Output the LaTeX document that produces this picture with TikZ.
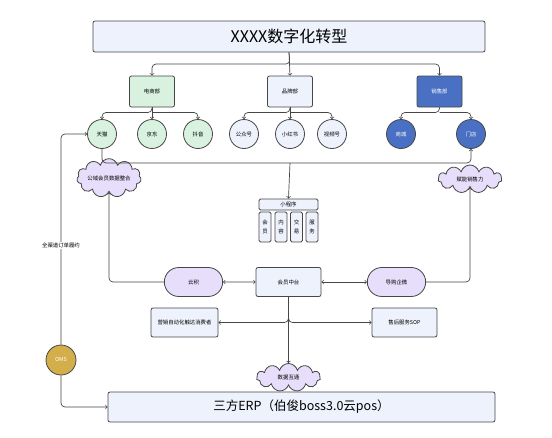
\documentclass[tikz,border=0pt]{standalone}
\usepackage{fontspec}
\newfontfamily\cjk{Noto Sans CJK SC}
\usepackage{tikz}
\usetikzlibrary{positioning,shapes,shapes.symbols,shapes.misc,arrows}
\definecolor{linecolor}{RGB}{70,70,70}
\definecolor{greenfill}{RGB}{216,242,223}
\definecolor{bluefill}{RGB}{238,242,252}
\definecolor{salesblue}{RGB}{74,112,196}
\definecolor{purplefill}{RGB}{230,222,250}
\definecolor{goldfill}{RGB}{213,174,76}

\tikzset{
  small/.style={font=\cjk\fontsize{5.4}{9}\selectfont},
  deptbox/.style={small, draw=linecolor, line width=0.8pt, rounded corners=2pt, minimum width=45pt, minimum height=31pt},
  channel/.style={small, circle, draw=linecolor, line width=0.8pt, minimum size=29pt, inner sep=0pt},
  infobox/.style={small, draw=linecolor, line width=0.8pt, rounded corners=2pt, fill=bluefill, minimum width=65pt, minimum height=29pt},
  pill/.style={small, rounded rectangle, draw=linecolor, line width=0.8pt, fill=purplefill, minimum width=65pt, minimum height=29pt},
  puff/.style={small, cloud, cloud puffs=11, aspect=2.3, draw=linecolor, line width=0.8pt, fill=purplefill, inner sep=0pt, minimum width=64pt, minimum height=28pt},
  conn/.style={->, >=to, draw=linecolor, line width=0.7pt, rounded corners=4pt}
}

\begin{document}
\begin{tikzpicture}[x=1pt, y=-1pt]
  \fill[white] (0,0) rectangle (552,437);
  \useasboundingbox (0,0) rectangle (552,437);

  % title
  \node[draw=linecolor, line width=0.8pt, rounded corners=2pt, fill=bluefill, minimum width=392pt, minimum height=31pt, font=\cjk\fontsize{16}{18}\selectfont] (title) at (289,36.5) {XXXX数字化转型};

  % departments
  \node[deptbox, fill=greenfill] (dianshang) at (152,91.5) {电商部};
  \node[deptbox, fill=bluefill] (pinpai) at (290,91.5) {品牌部};
  \node[deptbox, fill=salesblue, text=white] (xiaoshou) at (439.5,91.5) {销售部};

  % channels
  \node[channel, fill=greenfill] (tianmao) at (102,134) {天猫};
  \node[channel, fill=greenfill] (jingdong) at (152,134) {京东};
  \node[channel, fill=greenfill] (douyin) at (198,134) {抖音};
  \node[channel, fill=bluefill] (gongzhong) at (244,134) {公众号};
  \node[channel, fill=bluefill] (xiaohong) at (290,134) {小红书};
  \node[channel, fill=bluefill] (shipin) at (332,134) {视频号};
  \node[channel, fill=salesblue, text=white] (shangcheng) at (401,134) {商城};
  \node[channel, fill=salesblue, text=white] (mendian) at (471,134) {门店};

  \coordinate (top) at (290,64);
  \draw[conn] (title.south) -- (top) -| (dianshang.north);
  \draw[conn] (title.south) -- (pinpai.north);
  \draw[conn] (top) -| (xiaoshou.north);

  \coordinate (dsfork) at (152,112.5);
  \draw[conn] (dianshang.south) -- (dsfork) -| (tianmao.north);
  \draw[conn] (dianshang.south) -- (jingdong.north);
  \draw[conn] (dsfork) -| (douyin.north);

  \coordinate (ppfork) at (290,112.5);
  \draw[conn] (pinpai.south) -- (ppfork) -| (gongzhong.north);
  \draw[conn] (pinpai.south) -- (xiaohong.north);
  \draw[conn] (ppfork) -| (shipin.north);

  \coordinate (xsfork) at (439.5,112.5);
  \draw[conn] (xiaoshou.south) -- (xsfork) -| (shangcheng.north);
  \draw[conn] (xsfork) -| (mendian.north);

  % clouds
  \node[puff] (gongyu) at (109,178) {公域会员数据整合};
  \node[puff] (funeng) at (470,179) {赋能销售力};

  % mini program
  \node[small, draw=linecolor, line width=0.8pt, rounded corners=1.5pt, fill=bluefill, minimum width=59pt, minimum height=11pt, inner sep=0pt] (xcx) at (288.5,204.5) {小程序};
  \foreach \name/\cx/\txt in {hy/265/会\\员, nr/281/内\\容, jy/296.5/交\\易, fw/312/服\\务}
    \node[small, draw=linecolor, line width=0.8pt, rounded corners=1.5pt, fill=bluefill, minimum width=12pt, minimum height=30pt, inner sep=0pt, align=center] (\name) at (\cx,227) {\txt};

  \coordinate (bus) at (290,163);
  \draw[conn] (tianmao.south) |- (bus) -| (mendian.south);
  \draw[conn] (bus) -- (xcx.north);

  % middle row
  \node[pill] (yunji) at (193.5,282) {云积};
  \node[infobox] (huiyuan) at (288.5,282) {会员中台};
  \node[pill] (daogou) at (396.5,282) {导购企微};

  \draw[conn, <->] (yunji) -- (huiyuan);
  \draw[conn, <->] (huiyuan) -- (daogou);
  \draw[conn] (yunji.west) -| (gongyu.south);
  \draw[conn] (daogou.east) -| (funeng.south);

  \node[infobox, minimum width=67pt] (yingxiao) at (184.5,322.5) {营销自动化触达消费者};
  \node[infobox] (shouhou) at (404.5,322.5) {售后服务SOP};
  \node[puff] (shuju) at (288.5,377.5) {数据互通};

  \draw[conn] (huiyuan.south) |- (yingxiao.east);
  \draw[conn] (huiyuan.south) |- (shouhou.west);
  \draw[conn] (huiyuan.south) -- (shuju.north);

  % bottom
  \node[draw=linecolor, line width=0.8pt, rounded corners=2pt, fill=bluefill, minimum width=387pt, minimum height=30pt, font=\cjk\fontsize{12.5}{14}\selectfont] (erp) at (301.5,407) {三方ERP（伯俊boss3.0云pos）};
  \node[small, circle, draw=linecolor, line width=0.8pt, fill=goldfill, text=white, minimum size=30pt, inner sep=0pt] (oms) at (61,360) {OMS};

  \draw[conn] (oms.north) |- (tianmao.west) node[small, pos=0.235, fill=white, inner sep=1pt] {全渠道订单履约};
  \draw[conn] (oms.south) |- (erp.west);
\end{tikzpicture}
\end{document}
